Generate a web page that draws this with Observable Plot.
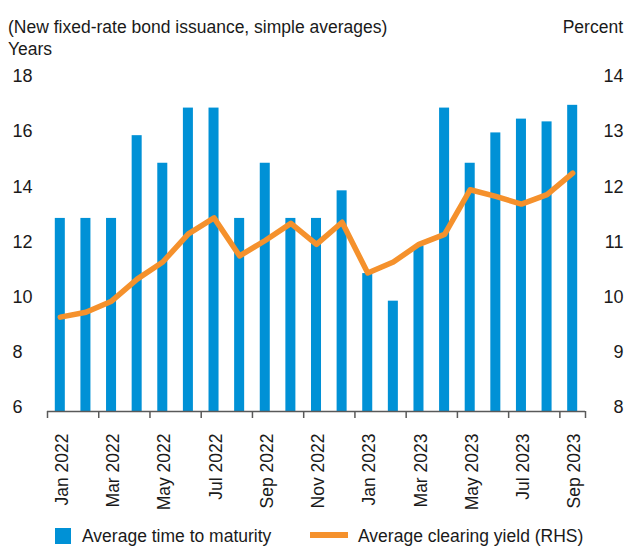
<!DOCTYPE html>
<html>
<head>
<meta charset="utf-8">
<script src="https://cdn.jsdelivr.net/npm/d3@7"></script>
<script src="https://cdn.jsdelivr.net/npm/@observablehq/plot@0.6"></script>
<style>
  html, body { margin: 0; padding: 0; background: #fff; }
  #wrap { position: relative; width: 634px; height: 546px; overflow: hidden;
          font-family: "Liberation Sans", Arial, sans-serif; color: #1a1a1a; }
  .t { position: absolute; font-size: 17.5px; line-height: 20px; white-space: nowrap; }
  #chart { position: absolute; left: 0; top: 0; }
  .sw { position: absolute; }
</style>
</head>
<body>
<div id="wrap">
  <div id="chart"></div>
  <div class="t" style="left:8px; top:17px;">(New fixed-rate bond issuance, simple averages)</div>
  <div class="t" style="left:8px; top:39px;">Years</div>
  <div class="t" style="right:11px; top:17px;">Percent</div>
  <div class="sw" style="left:55px; top:528px; width:16px; height:16px; background:#0091d6;"></div>
  <div class="t" style="left:82px; top:526px;">Average time to maturity</div>
  <div class="sw" style="left:310px; top:532px; width:38px; height:6px; background:#f5912c;"></div>
  <div class="t" style="left:358px; top:526px;">Average clearing yield (RHS)</div>
</div>
<script>
// ---- data ----
const months = ["Jan 2022","Feb 2022","Mar 2022","Apr 2022","May 2022","Jun 2022","Jul 2022","Aug 2022",
  "Sep 2022","Oct 2022","Nov 2022","Dec 2022","Jan 2023","Feb 2023","Mar 2023","Apr 2023","May 2023",
  "Jun 2023","Jul 2023","Aug 2023","Sep 2023"];
const maturity = [13,13,13,16,15,17,17,13,15,13,13,14,11,10,12,17,15,16.1,16.6,16.5,17.1];
const clearingYield = [9.71,9.8,10.0,10.4,10.71,11.22,11.51,10.82,11.1,11.41,11.03,11.43,10.51,10.71,11.03,11.21,12.02,11.9,11.76,11.93,12.32];
const leftTicks = [6,8,10,12,14,16,18];
const rightTicks = [8,9,10,11,12,13,14];

// ---- mapping of right axis onto left scale ----
const L0 = leftTicks[0], L1 = leftTicks[leftTicks.length - 1];
const R0 = rightTicks[0], R1 = rightTicks[rightTicks.length - 1];
const toLeft = r => L0 + (r - R0) * (L1 - L0) / (R1 - R0);
const fromLeft = v => Math.round(R0 + (v - L0) * (R1 - R0) / (L1 - L0));

const rows = months.map((m, i) => ({i, month: m, maturity: maturity[i], yld: clearingYield[i]}));
const labelRows = rows.filter(d => d.i % 2 === 0);
const boundaryTicks = d3.range(0, months.length + 1, 2).concat(months.length % 2 ? [months.length] : []);

const blue = "#0091d6", orange = "#f5912c";

const plot = Plot.plot({
  width: 634,
  height: 515,
  marginTop: 80,
  marginBottom: 104,
  marginLeft: 47,
  marginRight: 49,
  style: {fontFamily: '"Liberation Sans", Arial, sans-serif', fontSize: "18px", color: "#1a1a1a", background: "transparent"},
  x: {domain: [0, months.length], axis: null},
  y: {domain: [L0, L1], axis: null},
  marks: [
    Plot.rectY(rows, {x1: d => d.i, x2: d => d.i + 1, y1: L0, y2: "maturity", fill: blue, insetLeft: 7.8, insetRight: 7.8}),
    Plot.ruleY([L0], {stroke: "#595959", strokeWidth: 1.5}),
    Plot.axisX(boundaryTicks, {anchor: "bottom", label: null, tickSize: 7, stroke: "#595959", strokeWidth: 1.5, tickFormat: () => ""}),
    Plot.axisX(labelRows.map(d => d.i + 0.5), {anchor: "bottom", label: null, tickSize: 0, tickRotate: -90, tickPadding: 22,
      tickFormat: v => months[Math.round(v - 0.5)], fontSize: 17.5, dx: 2}),
    Plot.axisY(leftTicks, {anchor: "left", label: null, tickSize: 0, tickPadding: 35, textAnchor: "start", dy: -4}),
    Plot.axisY(rightTicks.map(toLeft), {anchor: "right", label: null, tickSize: 0, tickPadding: 38, textAnchor: "end", dy: -4,
      tickFormat: v => String(fromLeft(v))}),
    Plot.line(rows, {x: d => d.i + 0.5, y: d => toLeft(d.yld), stroke: orange, strokeWidth: 5.5})
  ]
});
document.getElementById("chart").appendChild(plot);
</script>
</body>
</html>
